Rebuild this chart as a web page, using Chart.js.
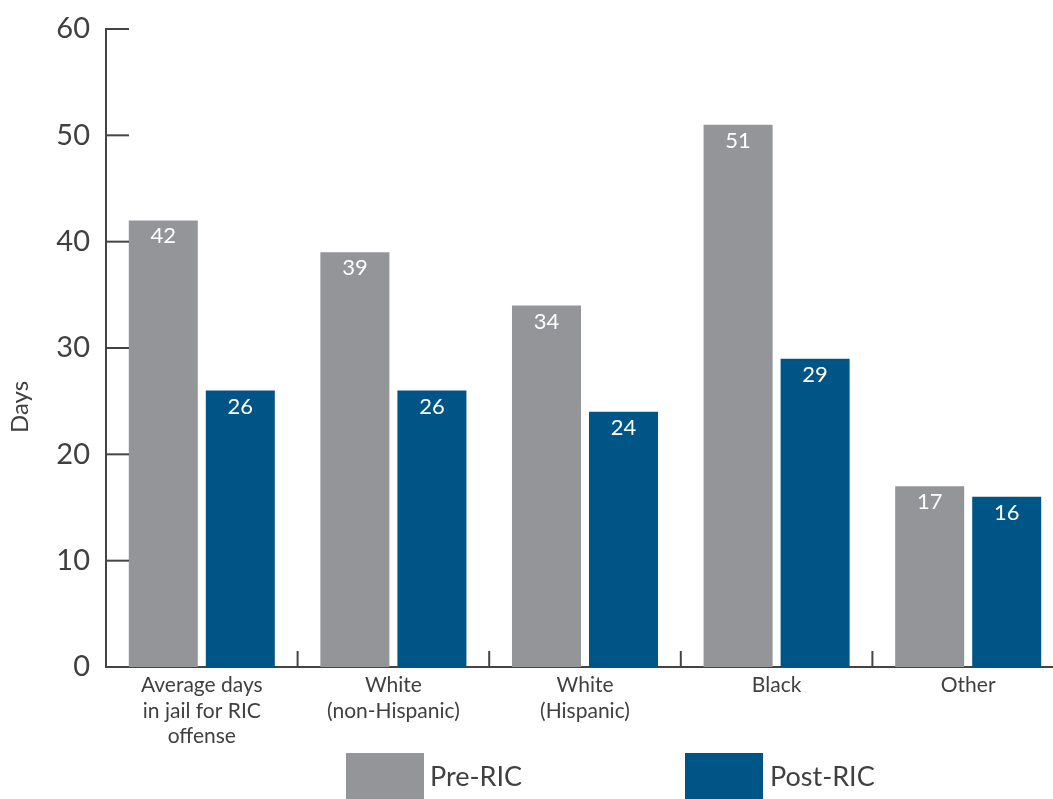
<!DOCTYPE html>
<html>
<head>
<meta charset="utf-8">
<script src="https://cdn.jsdelivr.net/npm/chart.js@4.4.1/dist/chart.umd.min.js"></script>
<style>
  html, body { margin: 0; padding: 0; overflow: hidden; background: #fff; }
  #wrap { position: relative; width: 1064px; height: 799px; }
  .lg-box { position: absolute; top: 753px; width: 78px; height: 50px; }
  .lg-text { position: absolute; top: 758px; font-family: Lato, sans-serif; font-size: 27px; color: #404040; line-height: 36px; }
</style>
</head>
<body>
<div id="wrap">
  <canvas id="canvas"></canvas>
  <div class="lg-box" style="left:346px;background:#939598"></div>
  <div class="lg-text" style="left:430px">Pre-RIC</div>
  <div class="lg-box" style="left:685px;background:#005587"></div>
  <div class="lg-text" style="left:770px">Post-RIC</div>
</div>
<script>
var categories = [
  ['Average days', 'in jail for RIC', 'offense'],
  ['White', '(non-Hispanic)'],
  ['White', '(Hispanic)'],
  'Black',
  'Other'
];
var preRIC = [42, 39, 34, 51, 17];
var postRIC = [26, 26, 24, 29, 16];
var yTicks = [0, 10, 20, 30, 40, 50, 60];

var axisColor = '#444444';
var textColor = '#404040';

// ticks pointing into the plot, bar value labels and the y title
var extras = {
  id: 'extras',
  afterDraw: function(chart) {
    var ctx = chart.ctx;
    var area = chart.chartArea;
    var y = chart.scales.y;
    var x = chart.scales.x;
    ctx.save();
    ctx.strokeStyle = axisColor;
    ctx.lineWidth = 2;
    yTicks.forEach(function(v) {
      var py = y.getPixelForValue(v);
      ctx.beginPath();
      ctx.moveTo(area.left, py);
      ctx.lineTo(area.left + 23, py);
      ctx.stroke();
    });
    for (var i = 1; i < categories.length; i++) {
      var px = (x.getPixelForValue(i - 1) + x.getPixelForValue(i)) / 2;
      ctx.beginPath();
      ctx.moveTo(px, area.bottom);
      ctx.lineTo(px, area.bottom - 16);
      ctx.stroke();
    }

    ctx.fillStyle = '#ffffff';
    ctx.font = '22px Lato';
    ctx.textAlign = 'center';
    ctx.textBaseline = 'middle';
    chart.data.datasets.forEach(function(ds, di) {
      chart.getDatasetMeta(di).data.forEach(function(bar, j) {
        ctx.fillText(ds.data[j], bar.x, bar.y + 16);
      });
    });

    ctx.fillStyle = textColor;
    ctx.font = '24px Lato';
    ctx.translate(20, 407);
    ctx.rotate(-Math.PI / 2);
    ctx.fillText('Days', 0, 0);
    ctx.restore();
  }
};

var ctx = document.getElementById('canvas').getContext('2d');
var myBarChart = new Chart(ctx, {
  type: 'bar',
  data: {
    labels: categories,
    datasets: [
      {
        label: 'Pre-RIC',
        data: preRIC,
        backgroundColor: '#939598',
        categoryPercentage: 0.804,
        barPercentage: 0.896
      },
      {
        label: 'Post-RIC',
        data: postRIC,
        backgroundColor: '#005587',
        categoryPercentage: 0.804,
        barPercentage: 0.896
      }
    ]
  },
  options: {
    responsive: true,
    maintainAspectRatio: false,
    animation: false,
    layout: { padding: { top: 29, left: 0, right: 0, bottom: 0 } },
    plugins: {
      legend: { display: false },
      tooltip: { enabled: false }
    },
    scales: {
      x: {
        grid: { display: false },
        border: { display: true, color: axisColor, width: 2 },
        ticks: {
          color: textColor,
          font: { family: 'Lato', size: 21, lineHeight: 1.2 },
          padding: -2,
          maxRotation: 0,
          autoSkip: false
        },
        afterFit: function(s) { s.height = 132; }
      },
      y: {
        min: 0,
        max: 60,
        grid: { display: false },
        border: { display: true, color: axisColor, width: 2 },
        ticks: {
          stepSize: 10,
          color: textColor,
          font: { family: 'Lato', size: 29 },
          padding: 8
        },
        afterFit: function(s) { s.width = 106; }
      }
    }
  },
  plugins: [extras]
});
</script>
</body>
</html>
